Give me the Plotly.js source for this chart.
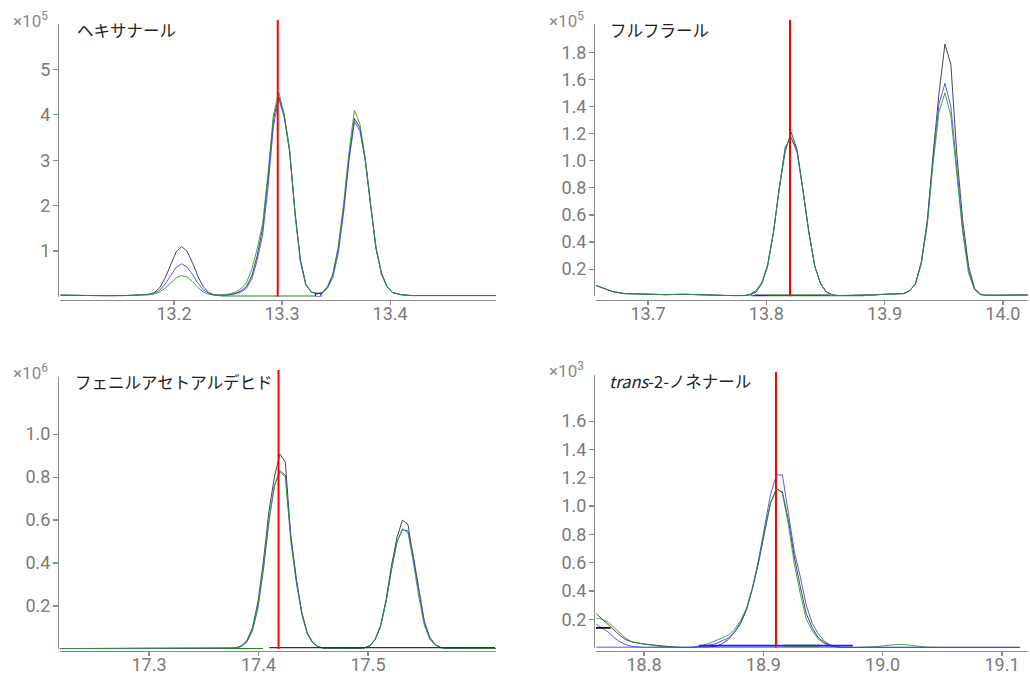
<!DOCTYPE html>
<html>
<head>
<meta charset="utf-8">
<script src="https://cdn.plot.ly/plotly-3.0.1.min.js"></script>
<style>
html,body{margin:0;padding:0;background:#fff;}
#chart{width:1030px;height:675px;}
</style>
</head>
<body>
<div id="chart"></div>
<script>
// ---------- Panel 1: ヘキサナール (×10^5) ----------
const hexTitle = 'ヘキサナール';
const hexExp = 5;
const hexTime = [13.095,13.11,13.125,13.14,13.155,13.167,
  13.177,13.182,13.187,13.192,13.197,13.202,13.207,13.212,13.217,13.222,13.227,13.232,13.237,13.242,
  13.247,13.252,13.257,13.262,13.267,13.272,13.277,13.282,13.287,13.292,13.297,13.302,13.307,13.312,13.317,13.322,13.327,13.332,
  13.337,13.342,13.347,13.352,13.357,13.362,13.367,13.372,13.377,13.382,13.387,13.392,13.397,13.402,
  13.41,13.42,13.43,13.44,13.45,13.46,13.48,13.498];
const hexBlack = [0.03,0.02,0.01,0.015,0.02,0.03,
  0.05,0.09,0.2,0.42,0.72,0.98,1.1,1.0,0.75,0.45,0.22,0.09,0.04,0.03,
  0.03,0.04,0.07,0.12,0.22,0.45,0.9,1.5,2.6,3.9,4.4,4.0,3.2,1.85,0.8,0.27,0.1,0.06,
  0.08,0.2,0.48,1.05,1.95,3.05,3.92,3.72,3.0,2.0,1.05,0.5,0.22,0.09,
  0.04,0.02,0.02,0.03,0.025,0.02,0.02,0.02];
const hexBlue = [0.03,0.02,0.01,0.015,0.02,0.03,
  0.04,0.07,0.14,0.28,0.47,0.64,0.72,0.65,0.49,0.3,0.15,0.07,0.03,0.02,
  0.03,0.04,0.06,0.1,0.18,0.38,0.8,1.35,2.4,3.75,4.35,3.95,3.2,1.85,0.8,0.27,0.1,0.06,
  0.07,0.18,0.42,0.95,1.85,3.0,3.85,3.65,3.0,2.0,1.08,0.52,0.23,0.09,
  0.04,0.02,0.02,0.03,0.025,0.02,0.02,0.02];
const hexGreen = [0.03,0.02,0.01,0.015,0.02,0.03,
  0.04,0.06,0.1,0.19,0.31,0.41,0.46,0.43,0.33,0.2,0.1,0.05,0.03,0.02,
  0.04,0.06,0.1,0.17,0.3,0.6,1.05,1.6,2.7,4.0,4.5,4.0,3.25,1.8,0.75,0.25,0.1,0.06,
  0.08,0.22,0.5,1.1,2.05,3.2,4.1,3.8,3.05,2.0,1.05,0.5,0.22,0.09,
  0.04,0.02,0.02,0.03,0.025,0.02,0.02,0.02];
const hexRT = 13.296;
const hexXTicks = [13.2,13.3,13.4];
const hexYTicks = [1,2,3,4,5];
const hexIntGreen = [13.243,13.331];
const hexIntBlue = [13.331,13.336];
const hexIntBlueHeight = 0.07;

// ---------- Panel 2: フルフラール (×10^5) ----------
const furTitle = 'フルフラール';
const furExp = 5;
const furTime = [13.656,13.662,13.67,13.68,13.69,13.7,13.715,13.73,13.745,13.76,13.775,13.781,
  13.786,13.791,13.796,13.801,13.806,13.811,13.816,13.821,13.826,13.831,13.836,13.841,13.846,13.851,13.856,13.861,
  13.87,13.88,13.89,13.9,13.91,
  13.916,13.921,13.926,13.931,13.936,13.941,13.946,13.951,13.956,13.961,13.966,13.971,13.976,13.981,13.986,
  13.995,14.005,14.021];
const furBlack = [0.08,0.06,0.035,0.02,0.018,0.015,0.012,0.015,0.01,0.006,0.004,0.005,
  0.01,0.03,0.09,0.22,0.47,0.8,1.07,1.21,1.08,0.78,0.47,0.22,0.09,0.03,0.01,0.005,
  0.005,0.008,0.01,0.015,0.02,
  0.02,0.04,0.09,0.25,0.55,1.05,1.5,1.86,1.71,1.05,0.56,0.22,0.06,0.015,0.008,
  0.008,0.01,0.01];
const furBlue = [0.08,0.06,0.035,0.02,0.018,0.015,0.012,0.015,0.01,0.006,0.004,0.005,
  0.015,0.04,0.1,0.23,0.47,0.8,1.1,1.17,1.07,0.78,0.47,0.22,0.09,0.03,0.01,0.005,
  0.005,0.008,0.01,0.015,0.02,
  0.02,0.04,0.09,0.25,0.55,1.02,1.42,1.57,1.4,0.95,0.5,0.19,0.05,0.012,0.008,
  0.008,0.01,0.01];
const furGreen = [0.08,0.06,0.035,0.02,0.018,0.015,0.012,0.015,0.01,0.006,0.004,0.005,
  0.01,0.03,0.09,0.22,0.47,0.8,1.1,1.17,1.06,0.78,0.47,0.22,0.09,0.03,0.01,0.005,
  0.005,0.008,0.01,0.015,0.02,
  0.02,0.04,0.09,0.24,0.52,0.98,1.36,1.5,1.33,0.9,0.47,0.17,0.05,0.012,0.008,
  0.008,0.01,0.01];
const furRT = 13.82;
const furXTicks = [13.7,13.8,13.9,14.0];
const furYTicks = [0.2,0.4,0.6,0.8,1.0,1.2,1.4,1.6,1.8];
const furIntBlue = [13.787,13.801];
const furIntBlack = [13.79,13.854];
const furIntGreen = [13.801,13.882];

// ---------- Panel 3: フェニルアセトアルデヒド (×10^6) ----------
const pheTitle = 'フェニルアセトアルデヒド';
const pheExp = 6;
const pheTime = [17.219,17.24,17.26,17.28,17.3,17.32,17.34,17.36,17.37,
  17.3745,17.3795,17.3845,17.3895,17.3945,17.3995,17.4045,17.4095,17.4145,17.4195,17.4245,17.4295,17.4345,17.4395,17.4445,17.4495,17.4545,17.4595,
  17.47,17.48,17.49,
  17.4965,17.5015,17.5065,17.5115,17.5165,17.5215,17.5265,17.5315,17.5365,17.5415,17.5465,17.5515,17.5565,17.5615,17.5665,17.5715,
  17.58,17.59,17.6,17.617];
const pheBlack = [0.002,0.002,0.002,0.002,0.002,0.002,0.002,0.002,0.002,
  0.003,0.006,0.015,0.04,0.1,0.22,0.41,0.64,0.8,0.907,0.87,0.52,0.32,0.17,0.075,0.03,0.01,0.004,
  0.002,0.002,0.002,
  0.005,0.015,0.045,0.11,0.23,0.39,0.52,0.6,0.58,0.42,0.26,0.12,0.05,0.02,0.007,0.003,
  0.002,0.002,0.002,0.002];
const pheBlue = [0.002,0.002,0.002,0.002,0.002,0.002,0.002,0.002,0.002,
  0.003,0.005,0.012,0.033,0.085,0.19,0.37,0.59,0.76,0.83,0.81,0.53,0.33,0.17,0.075,0.03,0.011,0.004,
  0.002,0.002,0.002,
  0.005,0.014,0.043,0.105,0.22,0.37,0.5,0.555,0.55,0.43,0.27,0.13,0.055,0.02,0.007,0.003,
  0.002,0.002,0.002,0.002];
const pheGreen = [0.002,0.002,0.002,0.002,0.002,0.002,0.002,0.002,0.002,
  0.003,0.005,0.013,0.035,0.09,0.2,0.38,0.6,0.76,0.825,0.8,0.5,0.31,0.16,0.07,0.028,0.01,0.004,
  0.002,0.002,0.002,
  0.005,0.014,0.043,0.105,0.22,0.37,0.5,0.56,0.54,0.4,0.24,0.11,0.045,0.018,0.006,0.003,
  0.002,0.002,0.002,0.002];
const pheRT = 17.4183;
const pheXTicks = [17.3,17.4,17.5];
const pheYTicks = [0.2,0.4,0.6,0.8,1.0];
const pheIntGreen = [17.37,17.404];
const pheIntBlack = [17.41,17.616];

// ---------- Panel 4: trans-2-ノネナール (×10^3) ----------
const nonTitle = '<i>trans</i>-2-ノネナール';
const nonExp = 3;
const nonTime = [18.76,18.765,18.77,18.775,18.78,18.785,18.79,18.8,18.81,18.82,18.83,
  18.836,18.841,18.846,18.851,18.856,18.861,18.866,18.871,18.876,18.881,18.886,18.891,18.896,18.901,18.906,18.911,18.916,18.921,18.926,18.931,18.936,18.941,18.946,18.951,18.956,18.961,18.966,
  18.975,18.985,18.993,19.0,19.007,19.014,19.021,19.028,19.036,
  19.05,19.07,19.09,19.115];
const nonBlack = [0.24,0.2,0.16,0.12,0.085,0.055,0.04,0.025,0.015,0.005,0.0,
  0.0,0.0,0.002,0.004,0.006,0.01,0.03,0.06,0.11,0.17,0.27,0.42,0.6,0.82,1.02,1.12,1.1,0.9,0.64,0.43,0.24,0.14,0.07,0.035,0.015,0.005,0.0,
  0,0,0,0,0,0,0,0,0,
  0,0,0,0];
const nonBlue = [0.165,0.14,0.11,0.07,0.04,0.02,0.008,0.0,0.0,0.0,0.0,
  0.0,0.002,0.006,0.012,0.02,0.03,0.05,0.07,0.11,0.18,0.27,0.42,0.62,0.84,1.08,1.22,1.22,0.95,0.68,0.5,0.3,0.17,0.1,0.045,0.02,0.008,0.0,
  0,0,0,0,0,0,0,0,0,
  0,0,0,0];
const nonGreen = [0.21,0.2,0.18,0.14,0.1,0.065,0.04,0.025,0.012,0.004,0.0,
  0.0,0.003,0.01,0.02,0.035,0.05,0.07,0.09,0.13,0.19,0.28,0.43,0.61,0.83,1.02,1.125,1.09,0.87,0.59,0.38,0.2,0.12,0.06,0.03,0.012,0.004,0.0,
  0,0,0.005,0.012,0.019,0.023,0.019,0.01,0.003,
  0,0,0,0];
const nonRT = 18.9106;
const nonXTicks = [18.8,18.9,19.0,19.1];
const nonYTicks = [0.2,0.4,0.6,0.8,1.0,1.2,1.4,1.6];
const nonIntBlue = [18.76,19.115];
const nonIntBlueUpper = [18.846,18.975];
const nonIntGreenUpper = [18.917,18.948];
const nonIntBlack = [18.759,18.772];
const nonIntBlackLevel = 0.14;

// ---------- Build ----------
const W = 1030, H = 675;
const C_BLACK = 'rgba(40,40,40,0.85)';
const C_BLUE = 'rgba(60,60,255,0.85)';
const C_GREEN = 'rgba(40,150,40,0.85)';
const AX = '#8c8c8c';
const TICKC = '#7a7a7a';

const panels = [
  {id:'', t:hexTime, k:hexBlack, b:hexBlue, g:hexGreen, rt:hexRT, xt:hexXTicks, yt:hexYTicks, yfmt:'d',
   px:[60,496], py:[24,296.5], xpos:300, ypos:58, xr:[13.0945,13.498], yr:[0,6.0], top:20,
   title:hexTitle, tpos:[75,30], exp:hexExp, epos:[11,20]},
  {id:'2', t:furTime, k:furBlack, b:furBlue, g:furGreen, rt:furRT, xt:furXTicks, yt:furYTicks, yfmt:'.1f',
   px:[596,1028], py:[24,296.3], xpos:300, ypos:594, xr:[13.656,14.0212], yr:[0,2.008], top:20,
   title:furTitle, tpos:[608,30], exp:furExp, epos:[547,20]},
  {id:'3', t:pheTime, k:pheBlack, b:pheBlue, g:pheGreen, rt:pheRT, xt:pheXTicks, yt:pheYTicks, yfmt:'.1f',
   px:[60,496], py:[377,649], xpos:651, ypos:58, xr:[17.2187,17.6169], yr:[0,1.266], top:370,
   title:pheTitle, tpos:[73,382], exp:pheExp, epos:[11,372]},
  {id:'4', t:nonTime, k:nonBlack, b:nonBlue, g:nonGreen, rt:nonRT, xt:nonXTicks, yt:nonYTicks, yfmt:'.1f',
   px:[596,1028], py:[375,647.6], xpos:651, ypos:594, xr:[18.7598,19.1218], yr:[0,1.926], top:372,
   title:nonTitle, tpos:[607,381], exp:nonExp, epos:[547,370]}
];

const traces = [];
const layout = {
  width: W, height: H,
  margin: {l:0, r:0, t:0, b:0},
  paper_bgcolor: '#ffffff', plot_bgcolor: '#ffffff',
  showlegend: false,
  font: {family: 'Roboto, "Noto Sans CJK JP", sans-serif'},
  shapes: [], annotations: []
};

function lineTrace(p, x, y, color, width) {
  return {x:x, y:y, type:'scatter', mode:'lines', xaxis:'x'+p.id, yaxis:'y'+p.id,
    line:{color:color, width:width}, hoverinfo:'skip'};
}

panels.forEach(p => {
  traces.push(lineTrace(p, p.t, p.k, C_BLACK, 1));
  traces.push(lineTrace(p, p.t, p.b, C_BLUE, 1));
  traces.push(lineTrace(p, p.t, p.g, C_GREEN, 1));

  const xd = [p.px[0]/W, p.px[1]/W];
  const yd = [1 - p.py[1]/H, 1 - p.py[0]/H];
  layout['xaxis'+p.id] = {
    domain: xd, range: p.xr, anchor: 'free', position: 1 - p.xpos/H,
    showline: true, linecolor: AX, linewidth: 1.2,
    ticks: 'outside', ticklen: 4, tickwidth: 1.2, tickcolor: AX,
    tickvals: p.xt, tickformat: '.1f', ticklabelstandoff: -7,
    tickfont: {family: 'Roboto', size: 18, color: TICKC},
    showgrid: false, zeroline: false, fixedrange: true
  };
  layout['yaxis'+p.id] = {
    domain: yd, range: p.yr, anchor: 'free', position: p.ypos/W,
    showline: true, linecolor: AX, linewidth: 1.2,
    ticks: 'outside', ticklen: 5, tickwidth: 1.2, tickcolor: AX,
    tickvals: p.yt, tickformat: p.yfmt, ticklabelstandoff: -1,
    tickfont: {family: 'Roboto', size: 18, color: TICKC},
    showgrid: false, zeroline: false, fixedrange: true
  };
  // red retention-time marker
  const ext = (p.py[1]-p.top)/(p.py[1]-p.py[0]);
  layout.shapes.push({type:'line', xref:'x'+p.id, yref:'y'+p.id+' domain',
    x0:p.rt, x1:p.rt, y0:0, y1:ext, line:{color:'#ff0000', width:2}, layer:'above'});
  // compound name
  layout.annotations.push({xref:'paper', yref:'paper', x:p.tpos[0]/W, y:1-p.tpos[1]/H,
    xanchor:'left', yanchor:'middle', showarrow:false, text:p.title,
    font:{family:'"Noto Sans CJK JP", sans-serif', size:16.5, color:'#222'}});
  // exponent label
  layout.annotations.push({xref:'paper', yref:'paper', x:p.epos[0]/W, y:1-p.epos[1]/H,
    xanchor:'left', yanchor:'middle', showarrow:false, text:'×10<sup>'+p.exp+'</sup>',
    font:{family:'Roboto', size:17, color:'#8a8a8a'}});
});

// integration baselines
const P1 = panels[0], P2 = panels[1], P3 = panels[2], P4 = panels[3];
traces.push(lineTrace(P1, hexIntGreen, [0,0], '#1a8a1a', 2.2));
traces.push(lineTrace(P1, [hexIntBlue[0],hexIntBlue[0],hexIntBlue[1],hexIntBlue[1],hexIntBlue[0]],
  [0,hexIntBlueHeight,hexIntBlueHeight,0,0], '#1a1aff', 1.2));
traces.push(lineTrace(P2, furIntBlue, [0,0], '#1a1aff', 2));
traces.push(lineTrace(P2, furIntBlack, [0.008,0.008], '#333333', 1.6));
traces.push(lineTrace(P2, furIntGreen, [0,0], '#1a8a1a', 2));
traces.push(lineTrace(P3, pheIntGreen, [0,0], '#1a8a1a', 2.2));
traces.push(lineTrace(P3, pheIntBlack, [0.006,0.006], '#333333', 1.2));
traces.push(lineTrace(P4, nonIntBlue, [0,0], '#1a1aff', 1.8));
traces.push(lineTrace(P4, nonIntBlueUpper, [0.014,0.014], '#1a1aff', 1.8));
traces.push(lineTrace(P4, nonIntGreenUpper, [0.014,0.014], '#1a5a1a', 1.8));
traces.push(lineTrace(P4, nonIntBlack, [nonIntBlackLevel,nonIntBlackLevel], '#111111', 1.8));

Plotly.newPlot('chart', traces, layout, {displayModeBar:false, staticPlot:true});
</script>
</body>
</html>
